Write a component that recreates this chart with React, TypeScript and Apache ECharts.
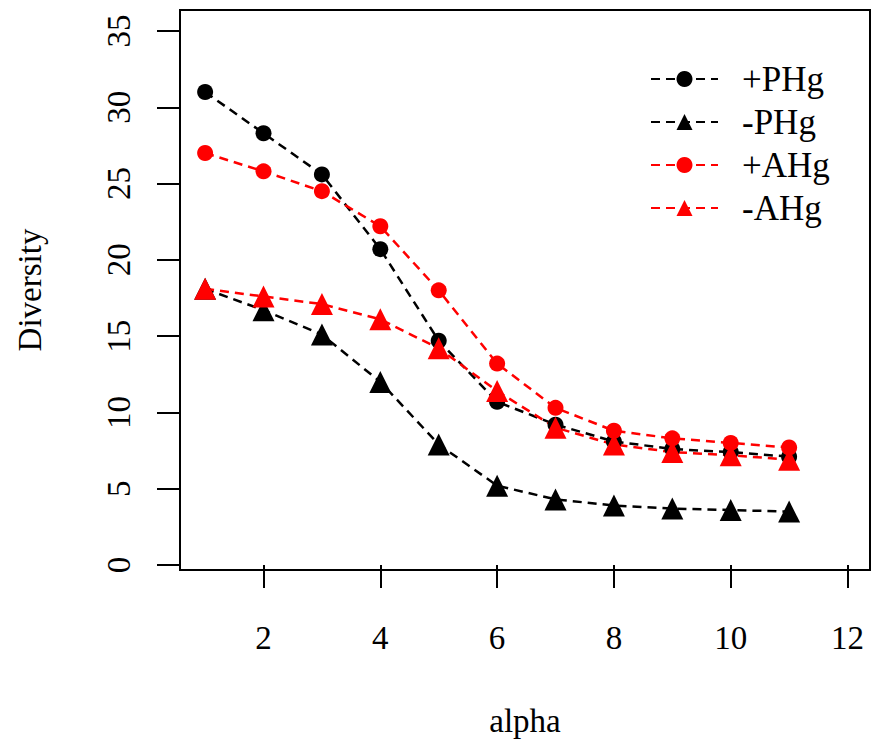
import React, { useEffect, useRef } from "react";
import * as echarts from "echarts";

const alpha = [1, 2, 3, 4, 5, 6, 7, 8, 9, 10, 11];
const plusPHg = [31.0, 28.3, 25.6, 20.7, 14.7, 10.7, 9.2, 8.1, 7.6, 7.4, 7.1];
const minusPHg = [18.1, 16.7, 15.1, 12.0, 7.9, 5.2, 4.3, 3.9, 3.7, 3.6, 3.5];
const plusAHg = [27.0, 25.8, 24.5, 22.2, 18.0, 13.2, 10.3, 8.8, 8.3, 8.0, 7.7];
const minusAHg = [18.1, 17.6, 17.1, 16.1, 14.2, 11.4, 9.0, 7.9, 7.4, 7.2, 6.9];
const xTicks = [2, 4, 6, 8, 10, 12];
const yTicks = [0, 5, 10, 15, 20, 25, 30, 35];

const FONT = "Liberation Serif";

export default function App() {
  const ref = useRef<HTMLDivElement>(null);
  useEffect(() => {
    if (!ref.current) return;
    const chart = echarts.init(ref.current, null, { renderer: "svg" });
    const mk = (name: string, data: number[], color: string, symbol: string, size: number) => ({
      name,
      type: "line",
      data: alpha.map((a, i) => [a, data[i]]),
      symbol,
      symbolSize: size,
      itemStyle: { color },
      lineStyle: { color, width: 2.5, type: [9, 6] },
      emphasis: { disabled: true },
    });
    chart.setOption({
      animation: false,
      backgroundColor: "#fff",
      textStyle: { fontFamily: FONT, color: "#000" },
      grid: {
        left: 180,
        right: 2,
        top: 10,
        bottom: 172,
        show: true,
        borderColor: "#000",
        borderWidth: 2,
        containLabel: false,
      },
      legend: {
        orient: "vertical",
        left: 645,
        top: 55,
        itemWidth: 67,
        itemHeight: 20,
        itemGap: 5,
        textStyle: {
          fontFamily: FONT,
          fontSize: 35,
          color: "#000",
          lineHeight: 38,
          padding: [0, 0, 0, 19],
        },
        data: ["+PHg", "-PHg", "+AHg", "-AHg"],
      },
      xAxis: {
        type: "value",
        min: 0.57,
        max: 12.385,
        name: "alpha",
        nameLocation: "middle",
        nameGap: 134,
        nameTextStyle: { fontFamily: FONT, fontSize: 33, color: "#000" },
        axisLine: { show: false },
        splitLine: { show: false },
        axisTick: {
          show: true,
          length: 23,
          customValues: xTicks,
          lineStyle: { color: "#000", width: 2 },
        },
        axisLabel: {
          customValues: xTicks,
          margin: 51,
          fontFamily: FONT,
          fontSize: 33,
          color: "#000",
        },
      },
      yAxis: {
        type: "value",
        min: -0.328,
        max: 36.376,
        name: "Diversity",
        nameLocation: "middle",
        nameRotate: 90,
        nameGap: 134,
        nameTextStyle: { fontFamily: FONT, fontSize: 33, color: "#000" },
        axisLine: { show: false },
        splitLine: { show: false },
        axisTick: {
          show: true,
          length: 23,
          customValues: yTicks,
          lineStyle: { color: "#000", width: 2 },
        },
        axisLabel: {
          customValues: yTicks,
          rotate: 90,
          margin: 45,
          fontFamily: FONT,
          fontSize: 33,
          color: "#000",
        },
      },
      series: [
        mk("+PHg", plusPHg, "#000000", "circle", 16),
        mk("-PHg", minusPHg, "#000000", "triangle", 22),
        mk("+AHg", plusAHg, "#ff0000", "circle", 16),
        mk("-AHg", minusAHg, "#ff0000", "triangle", 22),
      ],
    });
    return () => chart.dispose();
  }, []);
  return (
    <div
      ref={ref}
      style={{ position: "fixed", left: 0, top: 0, width: 872, height: 742 }}
    />
  );
}
